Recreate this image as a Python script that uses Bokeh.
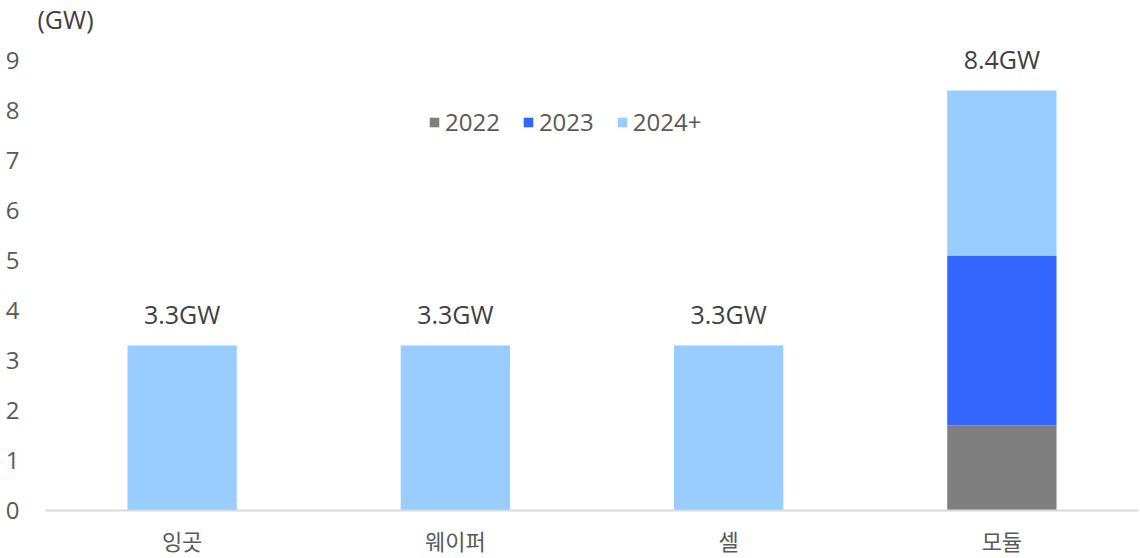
from bokeh.plotting import figure
from bokeh.models import ColumnDataSource, Range1d, FixedTicker, Legend
from bokeh.core.properties import value
from bokeh.embed import file_html
from bokeh.resources import INLINE

categories = ["잉곳", "웨이퍼", "셀", "모듈"]
series_names = ["2022", "2023", "2024+"]
v2022 = [0, 0, 0, 1.7]
v2023 = [0, 0, 0, 3.4]
v2024 = [3.3, 3.3, 3.3, 3.3]
totals = [3.3, 3.3, 3.3, 8.4]
total_labels = ["3.3GW", "3.3GW", "3.3GW", "8.4GW"]
y_ticks = [0, 1, 2, 3, 4, 5, 6, 7, 8, 9]
colors = ["#7f7f7f", "#3366ff", "#99ccff"]

src = ColumnDataSource(dict(cat=categories, s2022=v2022, s2023=v2023, s2024=v2024,
                            total=totals, lab=total_labels))

p = figure(x_range=categories, y_range=Range1d(0, 9.46), width=1140, height=558,
           output_backend="svg", toolbar_location=None, min_border_left=45,
           min_border_right=2, min_border_top=37, min_border_bottom=10)

renderers = p.vbar_stack(["s2022", "s2023", "s2024"], x="cat", width=0.4, source=src,
                         color=colors, line_color=None)

p.text(x="cat", y="total", text="lab", source=src, text_align="center",
       text_baseline="alphabetic", y_offset=-32, text_font=value("Open Sans"),
       text_font_size="25px", text_color="#404040")

legend = Legend(items=[(n, [r]) for n, r in zip(series_names, renderers)],
                orientation="horizontal", location=(383, 372),
                glyph_width=12, glyph_height=12, label_standoff=5, spacing=22,
                label_text_font="Open Sans", label_text_font_size="24px",
                label_text_color="#595959", background_fill_alpha=0,
                border_line_color=None, padding=0, margin=0)
p.add_layout(legend, "center")

p.title.text = "(GW)"
p.title.text_font = "Open Sans"
p.title.text_font_size = "25px"
p.title.text_font_style = "normal"
p.title.text_color = "#404040"
p.title.offset = -8
p.title.standoff = 0
p.title.vertical_align = "top"

p.xgrid.visible = False
p.ygrid.visible = False
p.outline_line_color = None

p.yaxis.ticker = FixedTicker(ticks=y_ticks)
p.yaxis.axis_line_color = None
p.yaxis.major_tick_line_color = None
p.yaxis.minor_tick_line_color = None
p.yaxis.major_label_text_font = "Open Sans"
p.yaxis.major_label_text_font_size = "24px"
p.yaxis.major_label_text_color = "#595959"
p.yaxis.major_label_standoff = 20

p.xaxis.axis_line_color = "#d9d9d9"
p.xaxis.axis_line_width = 2
p.xaxis.major_tick_line_color = None
p.xaxis.minor_tick_line_color = None
p.xaxis.major_label_text_font = "Noto Sans CJK KR"
p.xaxis.major_label_text_font_size = "22px"
p.xaxis.major_label_text_color = "#595959"
p.xaxis.major_label_standoff = 7

open("out.html", "w").write(file_html(p, INLINE))
